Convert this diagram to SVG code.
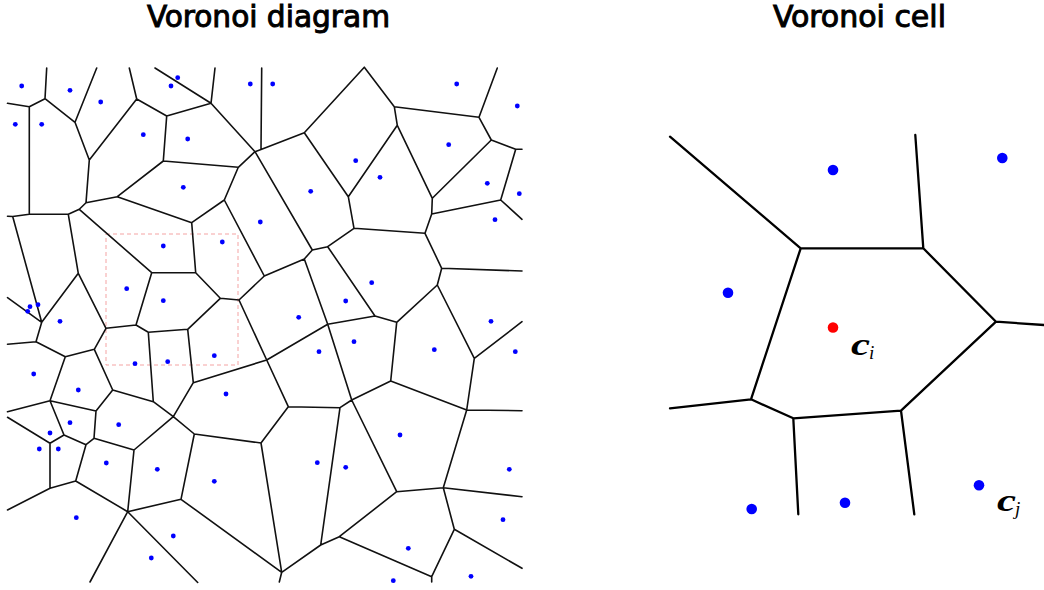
<svg xmlns="http://www.w3.org/2000/svg" width="1044" height="590" viewBox="0 0 1044 590">
<style>
.t{font-family:"DejaVu Sans",sans-serif;font-weight:normal;font-stretch:condensed;font-size:30px;fill:#000;stroke:#000;stroke-width:0.9}
.e{stroke:#111;stroke-width:1.6;fill:none;stroke-linecap:round;stroke-linejoin:round}
.e2{stroke:#000;stroke-width:2.3;fill:none;stroke-linecap:round;stroke-linejoin:round}
.d{fill:#0000ff}
.r{fill:#ff0000}
.m{font-family:"Liberation Serif",serif;font-style:italic;fill:#000}
</style>
<rect width="1044" height="590" fill="#fff"/>
<text class="t" x="147" y="27" textLength="243" lengthAdjust="spacingAndGlyphs">Voronoi diagram</text>
<text class="t" x="773" y="27" textLength="173" lengthAdjust="spacingAndGlyphs">Voronoi cell</text>

<g id="left-diagram">
<rect id="zoom-box" x="106" y="234" width="132" height="131" fill="none" stroke="#f4a3a3" stroke-width="1" stroke-dasharray="4 3"/>
<g id="left-edges">
<path class="e" d="M45 98.7L46.7 68M45 98.7L29.3 106.7M29.3 106.7L7.5 103.3M29.3 106.7L29.3 214.3M45 98.7L75 122.3M75 122.3L96.7 68M75 122.3L89.3 160M89.3 160L136.7 99M136.7 99L129.3 68M136.7 99L166.7 116M166.7 116L211 103.3M211 103.3L215 68M211 103.3L155 68M211 103.3L255 151.7M166.7 116L163.3 161M163.3 161L238.3 167.3M163.3 161L117.3 196.7M117.3 196.7L86 202.7M89.3 160L86 202.7M86 202.7L79.3 209.3M79.3 209.3L68.3 214.3M68.3 214.3L29.3 214.3M29.3 214.3L12.7 216.5M12.7 216.5L7.5 216.3M12.7 216.5L41.7 322.3M79.3 209.3L151.7 272.7M68.3 214.3L78.3 273.3M117.3 196.7L191.7 222.7M191.7 222.7L224.3 200M224.3 200L238.3 167.3M238.3 167.3L255 151.7M255 151.7L261 149.5M261 149.5L261.7 68M261 149.5L304.3 132.7M304.3 132.7L364.3 67.3M364.3 67.3L394.3 106.7M394.3 106.7L479 117.3M479 117.3L497.3 68M479 117.3L491.3 140M491.3 140L515.7 149.3M515.7 149.3L522 149.3M515.7 149.3L500.7 200M500.7 200L522 219.3M491.3 140L432.3 198.3M394.3 106.7L397.3 125.3M397.3 125.3L432.3 198.3M397.3 125.3L348.3 196.7M304.3 132.7L348.3 196.7M348.3 196.7L354 228.3M432.3 198.3L431.7 214M500.7 200L431.7 214M431.7 214L425 233.3M354 228.3L425 233.3M354 228.3L327.7 246.7M425 233.3L441.7 268.3M441.7 268.3L522 271M441.7 268.3L437.3 285M437.3 285L396.7 322.3M437.3 285L474.3 358.3M474.3 358.3L522 321.7M396.7 322.3L375 316M375 316L327.7 246.7M375 316L327.7 324.3M396.7 322.3L390.7 381M390.7 381L351.7 400M390.7 381L466.7 410M474.3 358.3L466.7 410M466.7 410L522 410.7M466.7 410L443.3 487.7M443.3 487.7L522 496.7M443.3 487.7L396.7 491.7M396.7 491.7L351.7 400M396.7 491.7L339.3 536.7M443.3 487.7L454.3 529.3M454.3 529.3L522 568.3M454.3 529.3L431.7 576.7M431.7 576.7L339.3 536.7M431.7 576.7L431.7 582M339.3 536.7L320.7 545M320.7 545L340 407.7M320.7 545L281.7 572.3M281.7 572.3L279.3 582M281.7 572.3L261 443M281.7 572.3L181 499.3M181 499.3L194.3 434M181 499.3L127.7 511.7M194.3 434L261 443M194.3 434L173.3 416.7M261 443L288.3 406.7M288.3 406.7L340 407.7M340 407.7L351.7 400M351.7 400L327.7 324.3M288.3 406.7L266.7 360M266.7 360L327.7 324.3M266.7 360L239 300M266.7 360L193.3 382.7M327.7 324.3L304.3 259M304.3 259L312.3 250M312.3 250L327.7 246.7M312.3 250L255 151.7M304.3 259L264.3 276M264.3 276L224.3 200M264.3 276L239 300M239 300L220.3 298.3M220.3 298.3L195.7 272.7M195.7 272.7L191.7 222.7M195.7 272.7L151.7 272.7M220.3 298.3L187.7 329.3M187.7 329.3L148.3 332.3M187.7 329.3L193.3 382.7M193.3 382.7L173.3 416.7M173.3 416.7L153.3 401.7M173.3 416.7L134 450M153.3 401.7L148.3 332.3M153.3 401.7L112.7 390M148.3 332.3L136 325M136 325L151.7 272.7M136 325L106 328.3M106 328.3L78.3 273.3M78.3 273.3L41.7 322.3M41.7 322.3L7.5 297.7M41.7 322.3L36 341.7M36 341.7L7.5 344.3M36 341.7L65.3 356.7M65.3 356.7L94.3 349.3M94.3 349.3L106 328.3M94.3 349.3L112.7 390M112.7 390L96 411M96 411L50 400.7M96 411L94 438.3M65.3 356.7L50 400.7M50 400.7L7.5 411.7M50 400.7L64 435M64 435L50 443.3M50 443.3L7.5 417.3M50 443.3L50 488.3M64 435L86 444.7M86 444.7L94 438.3M86 444.7L75.7 481M75.7 481L50 488.3M50 488.3L7.5 510M94 438.3L134 450M134 450L127.7 511.7M75.7 481L127.7 511.7M127.7 511.7L90 582M127.7 511.7L197.7 582.5"/>
</g>
<g id="left-sites" class="d">
<circle cx="21.7" cy="86" r="2.4"/><circle cx="70" cy="90.3" r="2.4"/><circle cx="100.7" cy="102" r="2.4"/><circle cx="15.3" cy="124.3" r="2.4"/><circle cx="41.7" cy="124.3" r="2.4"/><circle cx="143.3" cy="134.7" r="2.4"/><circle cx="171" cy="86" r="2.4"/><circle cx="177.7" cy="77.7" r="2.4"/>
<circle cx="250.3" cy="84" r="2.4"/><circle cx="272.7" cy="84" r="2.4"/><circle cx="187.7" cy="139" r="2.4"/><circle cx="183.3" cy="187.3" r="2.4"/><circle cx="310.7" cy="191.3" r="2.4"/><circle cx="260.3" cy="222" r="2.4"/><circle cx="355.7" cy="160.7" r="2.4"/>
<circle cx="456.7" cy="84" r="2.4"/><circle cx="517.3" cy="106" r="2.4"/><circle cx="448.7" cy="144.7" r="2.4"/><circle cx="380" cy="177.3" r="2.4"/><circle cx="487.3" cy="183.3" r="2.4"/><circle cx="519.3" cy="193.7" r="2.4"/><circle cx="495" cy="219.7" r="2.4"/>
<circle cx="163.3" cy="246" r="2.4"/><circle cx="126.7" cy="288.7" r="2.4"/><circle cx="163.3" cy="300.7" r="2.4"/><circle cx="38" cy="304.7" r="2.4"/><circle cx="30" cy="306.7" r="2.4"/><circle cx="27.7" cy="311.3" r="2.4"/><circle cx="60" cy="321.3" r="2.4"/><circle cx="135" cy="363.7" r="2.4"/><circle cx="167.7" cy="361.7" r="2.4"/><circle cx="33.7" cy="374" r="2.4"/><circle cx="78.3" cy="390" r="2.4"/>
<circle cx="222.3" cy="242" r="2.4"/><circle cx="345.7" cy="301" r="2.4"/><circle cx="298.7" cy="317.3" r="2.4"/><circle cx="354" cy="341.7" r="2.4"/><circle cx="214.3" cy="355.7" r="2.4"/><circle cx="319" cy="351.7" r="2.4"/><circle cx="226" cy="394" r="2.4"/>
<circle cx="371.7" cy="282.7" r="2.4"/><circle cx="491" cy="321.3" r="2.4"/><circle cx="434.3" cy="349.7" r="2.4"/><circle cx="515.3" cy="351.7" r="2.4"/>
<circle cx="70" cy="422.7" r="2.4"/><circle cx="50" cy="433" r="2.4"/><circle cx="118.7" cy="424.7" r="2.4"/><circle cx="39.3" cy="449" r="2.4"/><circle cx="58.3" cy="449" r="2.4"/><circle cx="106.3" cy="463" r="2.4"/><circle cx="157.3" cy="469.3" r="2.4"/><circle cx="76.3" cy="517.7" r="2.4"/><circle cx="173.3" cy="536" r="2.4"/><circle cx="151.3" cy="558" r="2.4"/>
<circle cx="214.3" cy="481.3" r="2.4"/><circle cx="317.3" cy="462.7" r="2.4"/><circle cx="345.7" cy="467.3" r="2.4"/>
<circle cx="400" cy="435" r="2.4"/><circle cx="509.3" cy="469.3" r="2.4"/><circle cx="503" cy="519.7" r="2.4"/><circle cx="408.3" cy="548.3" r="2.4"/><circle cx="393.3" cy="580.7" r="2.4"/><circle cx="471" cy="576.3" r="2.4"/>
</g>
</g>

<g id="right-diagram">
<g id="right-edges">
<path class="e2" d="M670 136.7L800.7 248.3L923.3 248.3L996 321.7L901 410.7L793.3 418.3L751 399.3L800.7 248.3M923.3 248.3L915.3 135M996 321.7L1044 325M751 399.3L670 408.3M793.3 418.3L798.3 514.3M901 410.7L914.3 514.3"/>
</g>
<g id="right-sites">
<circle class="d" cx="833" cy="170" r="5.3"/>
<circle class="d" cx="1002.3" cy="158" r="5.3"/>
<circle class="d" cx="728" cy="292.7" r="5.3"/>
<circle class="d" cx="751.7" cy="509" r="5.3"/>
<circle class="d" cx="845" cy="502.7" r="5.3"/>
<circle class="d" cx="979" cy="485.3" r="5.3"/>
<circle id="site-ci" class="r" cx="833" cy="327.5" r="5.3"/>
</g>
<g id="labels">
<text class="m" x="851" y="355" font-size="32" font-weight="bold" textLength="19" lengthAdjust="spacingAndGlyphs">c</text>
<text class="m" x="869" y="359" font-size="19">i</text>
<text class="m" x="997" y="511" font-size="32" font-weight="bold" textLength="19" lengthAdjust="spacingAndGlyphs">c</text>
<text class="m" x="1015" y="515" font-size="19">j</text>
</g>
</g>
</svg>
